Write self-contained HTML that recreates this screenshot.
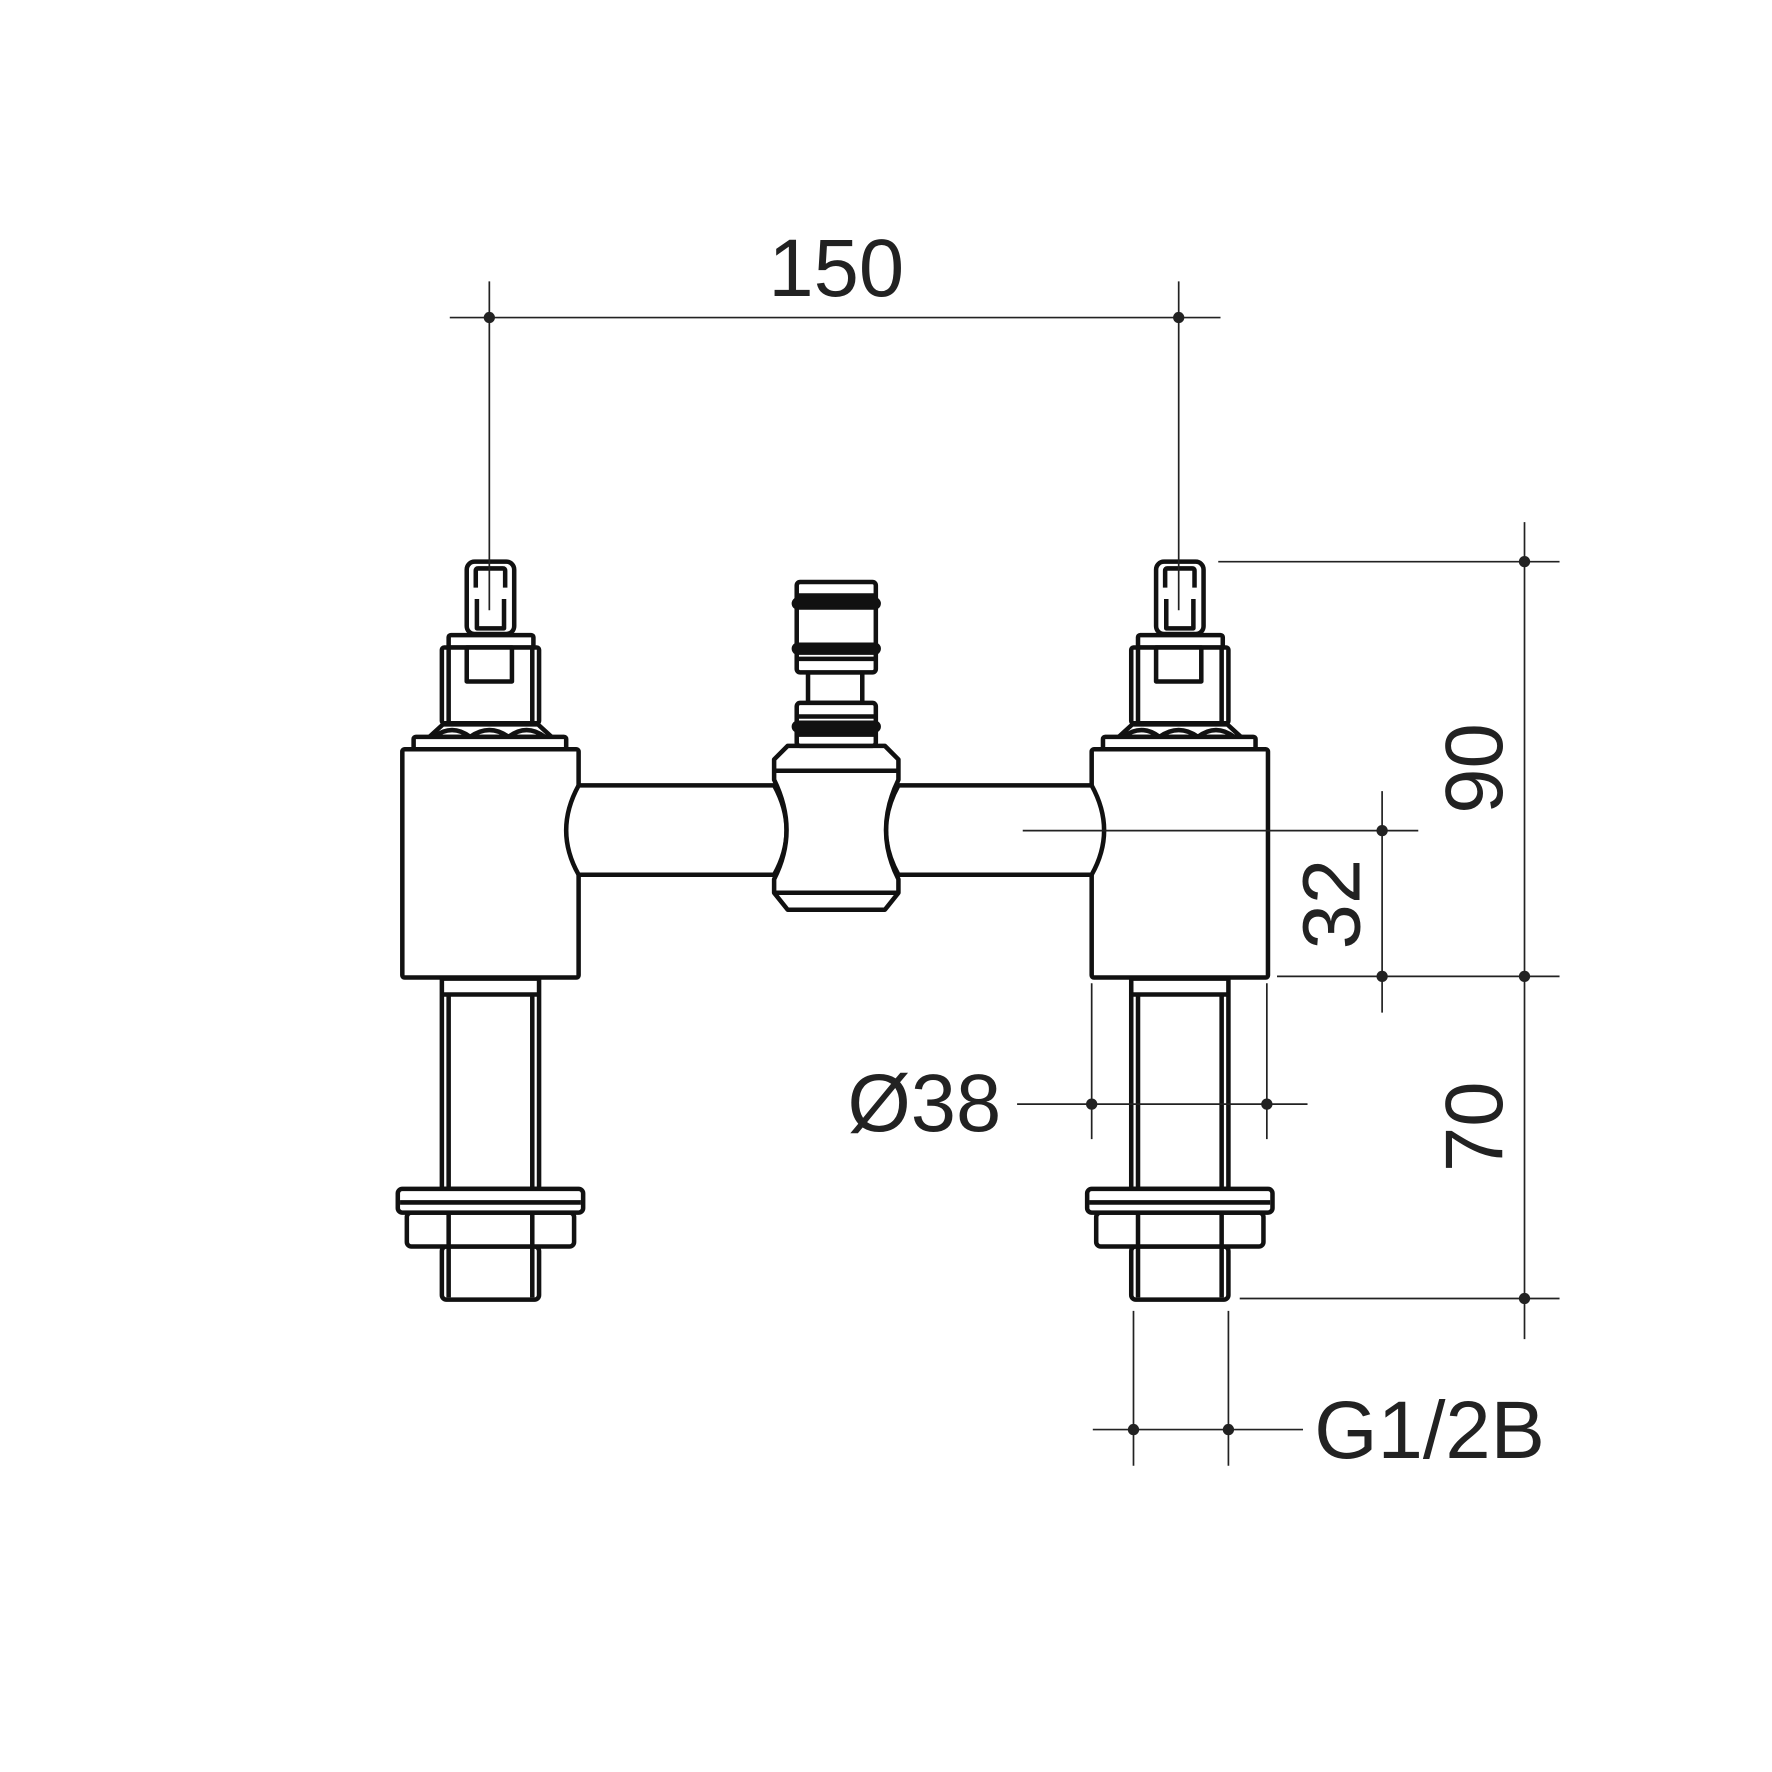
<!DOCTYPE html>
<html><head><style>html,body{margin:0;padding:0;background:#fff}svg{display:block}</style></head>
<body>
<svg width="1772" height="1772" viewBox="0 0 1568 1568" xmlns="http://www.w3.org/2000/svg">
<defs>
<g id="valve" fill="#fff" stroke="#111" stroke-width="4" stroke-linejoin="round">
  <rect x="413" y="497" width="42" height="64" rx="7"/>
  <path d="M421 520 L421 505 Q421 503 423 503 L445 503 Q447 503 447 505 L447 520 M422 530 L422 556 L446 556 L446 530" fill="none"/>
  <rect x="397" y="562" width="75" height="11" rx="2"/>
  <rect x="391" y="573" width="86" height="67" rx="2"/>
  <line x1="397" y1="573" x2="397" y2="638"/>
  <line x1="471" y1="573" x2="471" y2="638"/>
  <rect x="413" y="573" width="40" height="30"/>
  <path d="M380 652 L392 641 L476 641 L488 652 Z"/>
  <path d="M384 652 Q400 640 416 652 Q433 640 450 652 Q466 640 482 652" fill="none"/>
  <rect x="366" y="652" width="135" height="11" rx="2"/>
  <rect x="356" y="663" width="156" height="202" rx="2"/>
  <rect x="391" y="866" width="86" height="186"/>
  <line x1="391" y1="880" x2="477" y2="880"/>
  <line x1="397" y1="880" x2="397" y2="1052"/>
  <line x1="471" y1="880" x2="471" y2="1052"/>
  <rect x="391" y="1103" width="86" height="47" rx="4"/>
  <line x1="397" y1="1103" x2="397" y2="1148"/>
  <line x1="471" y1="1103" x2="471" y2="1148"/>
  <rect x="360" y="1073" width="148" height="30" rx="4"/>
  <line x1="397" y1="1073" x2="397" y2="1103"/>
  <line x1="471" y1="1073" x2="471" y2="1103"/>
  <rect x="352" y="1052" width="164" height="21" rx="4"/>
  <line x1="354" y1="1064" x2="514" y2="1064"/>
</g>
</defs>
<use href="#valve"/>
<use href="#valve" transform="translate(610 0)"/>
<g fill="#fff" stroke="#111" stroke-width="4" stroke-linejoin="round">
  <path d="M512 695 L685 695 Q707 735 685 774 L512 774 Q490 735 512 695 Z"/>
  <path d="M795 695 L966 695 Q988 735 966 774 L795 774 Q773 735 795 695 Z"/>
  <path d="M697 660 L783 660 L795 672 L795 690 Q773 735 795 778 L795 790 L783 805 L697 805 L685 790 L685 778 Q707 735 685 690 L685 672 Z"/>
  <line x1="685" y1="682" x2="795" y2="682"/>
  <line x1="685" y1="790" x2="795" y2="790"/>
  <rect x="715" y="595" width="48" height="27"/>
  <rect x="705" y="622" width="70" height="38" rx="3"/>
  <rect x="705" y="515" width="70" height="80" rx="3"/>
  <line x1="705" y1="527" x2="775" y2="527"/>
  <line x1="705" y1="583" x2="775" y2="583"/>
  <line x1="705" y1="634" x2="775" y2="634"/>
  <line x1="705" y1="650" x2="775" y2="650"/>
</g>
<g stroke="#111" stroke-width="11" stroke-linecap="round">
  <line x1="706" y1="534" x2="774" y2="534"/>
  <line x1="706" y1="574" x2="774" y2="574"/>
  <line x1="706" y1="643" x2="774" y2="643"/>
</g>
<g stroke="#222" stroke-width="1.5" fill="none">
  <line x1="398" y1="281" x2="1080" y2="281"/>
  <line x1="433" y1="249" x2="433" y2="540"/>
  <line x1="1043" y1="249" x2="1043" y2="540"/>
  <line x1="1349" y1="462" x2="1349" y2="1185"/>
  <line x1="1078" y1="497" x2="1380" y2="497"/>
  <line x1="1130" y1="864" x2="1380" y2="864"/>
  <line x1="1097" y1="1149" x2="1380" y2="1149"/>
  <line x1="1223" y1="700" x2="1223" y2="896"/>
  <line x1="905" y1="735" x2="1255" y2="735"/>
  <line x1="900" y1="977" x2="1157" y2="977"/>
  <line x1="966" y1="870" x2="966" y2="1008"/>
  <line x1="1121" y1="870" x2="1121" y2="1008"/>
  <line x1="967" y1="1265" x2="1153" y2="1265"/>
  <line x1="1003" y1="1160" x2="1003" y2="1297"/>
  <line x1="1087" y1="1160" x2="1087" y2="1297"/>
</g>
<g fill="#222">
  <circle cx="433" cy="281" r="5"/><circle cx="1043" cy="281" r="5"/>
  <circle cx="1349" cy="497" r="5"/><circle cx="1349" cy="864" r="5"/><circle cx="1349" cy="1149" r="5"/>
  <circle cx="1223" cy="735" r="5"/><circle cx="1223" cy="864" r="5"/>
  <circle cx="966" cy="977" r="5"/><circle cx="1121" cy="977" r="5"/>
  <circle cx="1003" cy="1265" r="5"/><circle cx="1087" cy="1265" r="5"/>
</g>
<g font-family="Liberation Sans, sans-serif" font-size="72" fill="#222">
  <text x="740" y="262" text-anchor="middle">150</text>
  <text x="886" y="1001" text-anchor="end">Ø38</text>
  <text x="1163" y="1290">G1/2B</text>
  <text transform="translate(1329 680) rotate(-90)" text-anchor="middle">90</text>
  <text transform="translate(1329 997) rotate(-90)" text-anchor="middle">70</text>
  <text transform="translate(1203 800) rotate(-90)" text-anchor="middle">32</text>
</g>
</svg>
</body></html>
